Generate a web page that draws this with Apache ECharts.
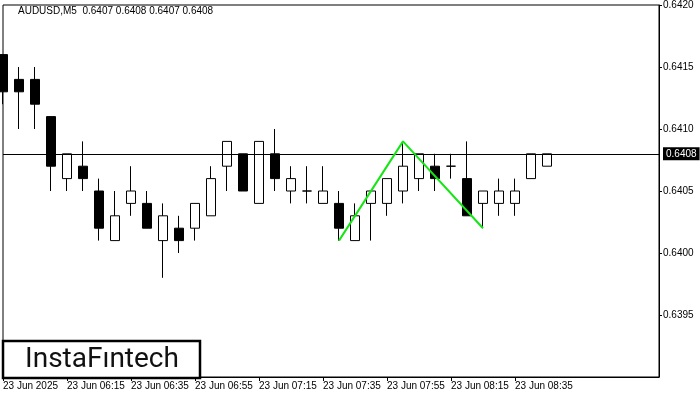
<!DOCTYPE html>
<html>
<head>
<meta charset="utf-8">
<script src="https://cdn.jsdelivr.net/npm/echarts@6/dist/echarts.min.js"></script>
<style>html,body{margin:0;padding:0;background:#fff;}#c{width:700px;height:400px;}</style>
</head>
<body>
<div id="c"></div>
<script>
// Bar times (M5), padded with empty slots for chart shift
const times = ['05:55','06:00','06:05','06:10','06:15','06:20','06:25','06:30','06:35','06:40',
  '06:45','06:50','06:55','07:00','07:05','07:10','07:15','07:20','07:25','07:30',
  '07:35','07:40','07:45','07:50','07:55','08:00','08:05','08:10','08:15','08:20',
  '08:25','08:30','08:35','08:40','08:45'];
const padSlots = 7;
const opens  = [0.6416,0.6414,0.6414,0.6411,0.6406,0.6407,0.6405,0.6401,0.6404,0.6404,
  0.6401,0.6402,0.6402,0.6403,0.6407,0.6408,0.6404,0.6408,0.6405,0.6405,
  0.6404,0.6404,0.6401,0.6404,0.6404,0.6405,0.6406,0.6407,0.6407,0.6406,
  0.6404,0.6404,0.6404,0.6406,0.6407];
const closes = [0.6413,0.6413,0.6412,0.6407,0.6408,0.6406,0.6402,0.6403,0.6405,0.6402,
  0.6403,0.6401,0.6404,0.6406,0.6409,0.6405,0.6409,0.6406,0.6406,0.6405,
  0.6405,0.6402,0.6403,0.6405,0.6406,0.6407,0.6408,0.6406,0.6407,0.6403,
  0.6405,0.6405,0.6405,0.6408,0.6408];
const lows   = [0.6412,0.6410,0.6410,0.6405,0.6405,0.6405,0.6401,0.6401,0.6403,0.6402,
  0.6398,0.6400,0.6401,0.6403,0.6405,0.6405,0.6404,0.6405,0.6404,0.6404,
  0.6404,0.6401,0.6401,0.6401,0.6403,0.6404,0.6405,0.6405,0.6406,0.6403,
  0.6402,0.6403,0.6403,0.6406,0.6407];
const highs  = [0.6416,0.6415,0.6415,0.6411,0.6408,0.6409,0.6406,0.6405,0.6407,0.6405,
  0.6404,0.6403,0.6404,0.6407,0.6409,0.6408,0.6409,0.6410,0.6407,0.6407,
  0.6407,0.6405,0.6404,0.6405,0.6406,0.6409,0.6408,0.6408,0.6408,0.6409,
  0.6405,0.6406,0.6406,0.6408,0.6408];
// Double top pattern points (bar index, price)
const patternIdx = [21, 25, 30];
const patternPrice = [0.6401, 0.6409, 0.6402];
const currentPrice = 0.6408;
const yMin = 0.6390, yMax = 0.6420, yStep = 0.0005;
const titleText = 'AUDUSD,M5  0.6407 0.6408 0.6407 0.6408';
const dateLabel = '23 Jun 2025';
const dayPrefix = '23 Jun ';

const cats = times.concat(new Array(padSlots).fill(''));
const candleData = opens.map((o, i) => [o, closes[i], lows[i], highs[i]]);
const patternData = cats.map(() => null);
patternIdx.forEach((ix, k) => { patternData[ix] = patternPrice[k]; });

const showTick = (i, v) => v !== '' && i % 4 === 0;

const chart = echarts.init(document.getElementById('c'), null, {renderer: 'canvas'});
chart.setOption({
  animation: false,
  backgroundColor: '#fff',
  grid: {left: 3, top: 4, width: 656, height: 373, show: true, borderColor: '#000', borderWidth: 1, backgroundColor: 'transparent'},
  xAxis: {
    type: 'category', data: cats, boundaryGap: false,
    axisLine: {show: true, lineStyle: {color: '#000', width: 1}},
    axisTick: {show: true, interval: showTick, length: 4, lineStyle: {color: '#000'}},
    axisLabel: {
      interval: showTick, align: 'left', margin: 4, color: '#000',
      fontFamily: 'Liberation Sans', fontSize: 10,
      formatter: (v, i) => i === 0 ? dateLabel : dayPrefix + v
    },
    splitLine: {show: false}
  },
  yAxis: {
    type: 'value', position: 'right', min: yMin, max: yMax, interval: yStep, scale: true,
    axisLine: {show: true, lineStyle: {color: '#000', width: 1}},
    axisTick: {show: true, length: 3, lineStyle: {color: '#000'}},
    axisLabel: {showMinLabel: false, margin: 4, color: '#000', fontFamily: 'Liberation Sans', fontSize: 10,
      formatter: v => v.toFixed(4)},
    splitLine: {show: false}
  },
  series: [
    {
      type: 'candlestick', data: candleData, barWidth: 10, clip: true,
      itemStyle: {color: '#fff', color0: '#000', borderColor: '#000', borderColor0: '#000', borderWidth: 1}
    },
    {
      type: 'line', data: patternData, connectNulls: true, symbol: 'none',
      lineStyle: {color: '#14e614', width: 2}, z: 5,
      markLine: {
        silent: true, symbol: ['none', 'none'], animation: false, precision: 4,
        lineStyle: {color: '#000', width: 1, type: 'solid'},
        label: {show: true, position: 'end', distance: 4, formatter: () => currentPrice.toFixed(4),
          color: '#fff', backgroundColor: '#000', padding: [2, 3, 1, 3], fontFamily: 'Liberation Sans', fontSize: 10},
        emphasis: {disabled: true},
        data: [{yAxis: currentPrice}]
      }
    }
  ],
  graphic: [
    {type: 'text', left: 18, top: 6, style: {text: titleText, fill: '#000', font: '10px "Liberation Sans"'}},
    {type: 'rect', shape: {x: 3, y: 341, width: 197, height: 37}, style: {fill: '#fff', stroke: '#000', lineWidth: 2.5}, z: 100},
    {type: 'text', x: 102, y: 360, z: 101, style: {text: 'InstaF\u0131ntech', fill: '#111', font: '400 28px Roboto', textAlign: 'center', textVerticalAlign: 'middle'}}
  ]
});
</script>
</body>
</html>
